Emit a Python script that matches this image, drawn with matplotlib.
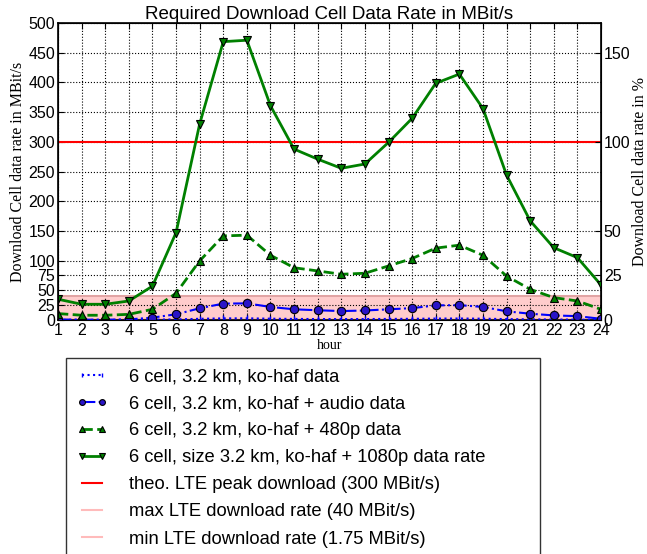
import numpy as np
import matplotlib.pyplot as plt

hours = np.arange(1, 25)

kohaf = [0.3, 0.2, 0.2, 0.3, 0.5, 1.0, 2.0, 2.7, 2.8, 2.2, 1.8, 1.6,
         1.5, 1.6, 1.8, 2.0, 2.4, 2.5, 2.2, 1.5, 1.1, 0.8, 0.6, 0.2]
audio = [0.8, 0.5, 0.5, 1.0, 4.0, 9.6, 19.7, 27.6, 28.0, 22.0, 18.0, 16.4,
         15.0, 16.0, 18.0, 20.0, 24.6, 25.0, 22.0, 14.6, 10.6, 7.7, 6.5, 2.0]
p480 = [10.8, 8.0, 8.0, 9.5, 18.0, 45.0, 99.5, 141.6, 142.8, 109.0, 88.0, 82.6,
        77.0, 78.7, 91.0, 103.5, 121.0, 126.0, 109.0, 74.0, 51.7, 37.7, 32.0, 18.0]
p1080 = [35.0, 26.5, 26.5, 32.0, 57.0, 147.0, 330.0, 468.6, 471.0, 360.7, 287.7, 270.8,
         255.4, 262.6, 299.0, 339.5, 398.5, 414.0, 356.0, 244.0, 167.0, 121.7, 105.0, 59.0]

lte_peak = 300
lte_max = 40
lte_min = 1.75

left_ticks = [0, 25, 50, 75, 100, 150, 200, 250, 300, 350, 400, 450, 500]
right_ticks = [0, 25, 50, 100, 150]

sans = 'Liberation Sans'
serif = 'Liberation Serif'

fig = plt.figure(figsize=(6.47, 5.54), dpi=100)
ax = fig.add_axes([58 / 647, 1 - 320 / 554, 543 / 647, 297 / 554])

ax.fill_between([1, 24], lte_min, lte_max, color='#ffcccc', zorder=1)

ax.plot(hours, kohaf, color='b', linestyle=':', linewidth=1.5, marker='|',
        markersize=4, markeredgecolor='b', label='6 cell, 3.2 km, ko-haf data', zorder=3)
ax.plot(hours, audio, color='b', linestyle='-.', linewidth=1.5, marker='o',
        markersize=6, markeredgewidth=0.8, markerfacecolor='#2a14c8', markeredgecolor='k',
        label='6 cell, 3.2 km, ko-haf + audio data', zorder=3)
ax.plot(hours, p480, color='g', linestyle='--', linewidth=2, marker='^',
        markersize=6, markeredgewidth=0.8, markeredgecolor='k',
        label='6 cell, 3.2 km, ko-haf + 480p data', zorder=3)
ax.plot(hours, p1080, color='g', linestyle='-', linewidth=2, marker='v',
        markersize=6, markeredgewidth=0.8, markeredgecolor='k',
        label='6 cell, size 3.2 km, ko-haf + 1080p data rate', zorder=3)
ax.axhline(lte_peak, color='red', linewidth=1.5, label='theo. LTE peak download (300 MBit/s)', zorder=2)
ax.axhline(lte_max, color='#ffbbbb', linewidth=1.5, label='max LTE download rate (40 MBit/s)', zorder=2)
ax.axhline(lte_min, color='#ffbbbb', linewidth=1.5, label='min LTE download rate (1.75 MBit/s)', zorder=2)
ax.axhline(lte_max, color='#dca0a0', linewidth=1.2, zorder=2)

ax.set_xlim(1, 24)
ax.set_ylim(0, 500)
ax.set_xticks(hours)
ax.set_yticks(left_ticks)
ax.grid(True, color='k', linestyle=':', linewidth=0.8)
ax.tick_params(direction='in', top=True, length=4, labelsize=11.5, pad=2)
for lab in ax.get_xticklabels() + ax.get_yticklabels():
    lab.set_fontfamily(sans)
ax.set_title('Required Download Cell Data Rate in MBit/s', fontsize=13.5, family=sans, pad=3)
ax.set_xlabel('hour', fontsize=10, family=serif, labelpad=1)
ax.set_ylabel('Download Cell data rate in MBit/s', fontsize=11.5, family=serif, labelpad=2)

ax2 = ax.twinx()
ax2.set_ylim(0, 500 / 3)
ax2.set_yticks(right_ticks)
ax2.tick_params(direction='in', length=4, labelsize=11.5, pad=2)
for lab in ax2.get_yticklabels():
    lab.set_fontfamily(sans)
ax2.set_ylabel('Download Cell data rate in %', fontsize=11.5, family=serif, labelpad=1)
for sp in ax.spines.values():
    sp.set_linewidth(1.2)

handles, labels = ax.get_legend_handles_labels()
leg = fig.legend(handles, labels, loc='upper left', mode='expand',
                 bbox_to_anchor=(66 / 647, 0.0, 474 / 647, 1 - 358 / 554),
                 bbox_transform=fig.transFigure, fancybox=False, edgecolor='k',
                 prop={'family': sans, 'size': 13.2}, numpoints=2, markerscale=0.7,
                 handlelength=1.7, handletextpad=1.2, labelspacing=0.55,
                 borderpad=0.55, borderaxespad=0)
leg.get_frame().set_linewidth(1.0)

fig.savefig('out.png', dpi=100, facecolor='white')
